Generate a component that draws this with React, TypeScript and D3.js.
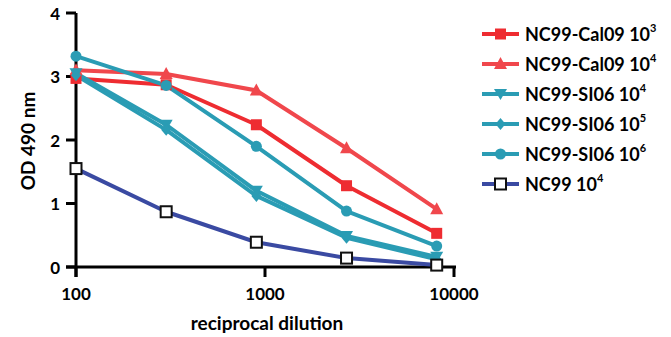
import { useEffect, useRef } from 'react';
import * as d3 from 'd3';

const dilutions = [100, 300, 900, 2700, 8100];
const seriesNames = ['NC99-Cal09 10', 'NC99-Cal09 10', 'NC99-SI06 10', 'NC99-SI06 10', 'NC99-SI06 10', 'NC99 10'];
const seriesExp = ['3', '4', '4', '5', '6', '4'];
const cal09e3 = [2.97, 2.87, 2.24, 1.28, 0.53];
const cal09e4 = [3.1, 3.04, 2.78, 1.87, 0.91];
const si06e4 = [3.05, 2.24, 1.2, 0.49, 0.16];
const si06e5 = [3.02, 2.16, 1.12, 0.46, 0.12];
const si06e6 = [3.32, 2.86, 1.9, 0.88, 0.33];
const nc99e4 = [1.55, 0.87, 0.39, 0.14, 0.03];
const yTicks = [0, 1, 2, 3, 4];
const xTicks = [100, 1000, 10000];

const series = [
  { vals: cal09e3, color: '#ee2c31', marker: 'square' },
  { vals: cal09e4, color: '#f0474c', marker: 'triangle' },
  { vals: si06e4, color: '#2a9cb4', marker: 'down' },
  { vals: si06e5, color: '#2a9cb4', marker: 'diamond' },
  { vals: si06e6, color: '#2a9cb4', marker: 'circle' },
  { vals: nc99e4, color: '#3a4aa2', marker: 'open' },
];

const FONT = 'Lato, "Open Sans", sans-serif';

function drawMarker(g: d3.Selection<SVGGElement, unknown, null, undefined>, kind: string, cx: number, cy: number, color: string) {
  if (kind === 'square') {
    g.append('rect').attr('x', cx - 5.5).attr('y', cy - 5.5).attr('width', 11).attr('height', 11).attr('fill', color);
  } else if (kind === 'triangle') {
    g.append('path').attr('d', `M${cx},${cy - 7}L${cx + 6.5},${cy + 5}L${cx - 6.5},${cy + 5}Z`).attr('fill', color);
  } else if (kind === 'down') {
    g.append('path').attr('d', `M${cx},${cy + 6}L${cx + 6.5},${cy - 5}L${cx - 6.5},${cy - 5}Z`).attr('fill', color);
  } else if (kind === 'diamond') {
    g.append('path').attr('d', `M${cx},${cy - 6}L${cx + 5},${cy}L${cx},${cy + 6}L${cx - 5},${cy}Z`).attr('fill', color);
  } else if (kind === 'circle') {
    g.append('circle').attr('cx', cx).attr('cy', cy).attr('r', 5.5).attr('fill', color);
  } else {
    g.append('rect').attr('x', cx - 5.5).attr('y', cy - 5.5).attr('width', 11).attr('height', 11)
      .attr('fill', 'white').attr('stroke', '#111').attr('stroke-width', 2);
  }
}

export default function App() {
  const svgRef = useRef<SVGSVGElement>(null);

  useEffect(() => {
    if (!svgRef.current) return;
    const svg = d3.select(svgRef.current);
    svg.selectAll('*').remove();

    const x = d3.scaleLog().domain([100, 10000]).range([76, 454]);
    const y = d3.scaleLinear().domain([0, 4]).range([267, 13]);

    const g = svg.append('g');

    // axes
    g.append('line').attr('x1', 76).attr('x2', 76).attr('y1', y(4)).attr('y2', 277)
      .attr('stroke', '#000').attr('stroke-width', 3);
    g.append('line').attr('x1', 66).attr('x2', 456).attr('y1', y(0)).attr('y2', y(0))
      .attr('stroke', '#000').attr('stroke-width', 3);
    yTicks.forEach(v => {
      g.append('line').attr('x1', 66).attr('x2', 76).attr('y1', y(v)).attr('y2', y(v))
        .attr('stroke', '#000').attr('stroke-width', 3);
      g.append('text').attr('x', 60).attr('y', y(v)).attr('text-anchor', 'end').attr('dominant-baseline', 'central')
        .attr('font-family', FONT).attr('font-weight', 'bold').attr('font-size', 17).text(v);
    });
    xTicks.forEach(v => {
      g.append('line').attr('x1', x(v)).attr('x2', x(v)).attr('y1', y(0)).attr('y2', 277)
        .attr('stroke', '#000').attr('stroke-width', 3);
      g.append('text').attr('x', x(v)).attr('y', 300).attr('text-anchor', 'middle')
        .attr('font-family', FONT).attr('font-weight', 'bold').attr('font-size', 17).text(v);
    });
    g.append('text').attr('x', 267).attr('y', 330).attr('text-anchor', 'middle')
      .attr('font-family', FONT).attr('font-weight', 'bold').attr('font-size', 19).text('reciprocal dilution');
    g.append('text').attr('transform', 'translate(35,141) rotate(-90)').attr('text-anchor', 'middle')
      .attr('font-family', FONT).attr('font-weight', 'bold').attr('font-size', 19).text('OD 490 nm');

    const line = d3.line<number>().x((_, i) => x(dilutions[i])).y(d => y(d));
    series.forEach(s => {
      g.append('path').datum(s.vals).attr('d', line).attr('fill', 'none')
        .attr('stroke', s.color).attr('stroke-width', 4).attr('stroke-linejoin', 'round');
    });
    series.forEach(s => {
      s.vals.forEach((v, i) => drawMarker(g, s.marker, x(dilutions[i]), y(v), s.color));
    });

    // legend
    const rowY = d3.scaleLinear().domain([0, 5]).range([34, 184]);
    series.forEach((s, i) => {
      const ly = rowY(i);
      g.append('line').attr('x1', 482).attr('x2', 519).attr('y1', ly).attr('y2', ly)
        .attr('stroke', s.color).attr('stroke-width', 4);
      drawMarker(g, s.marker, 500.5, ly, s.color);
      const t = g.append('text').attr('x', 525).attr('y', ly).attr('dominant-baseline', 'central')
        .attr('font-family', FONT).attr('font-weight', 'bold').attr('font-size', 18).text(seriesNames[i]);
      t.append('tspan').attr('dy', -7).attr('font-size', 11).text(seriesExp[i]);
    });
  }, []);

  return (
    <svg ref={svgRef} width={671} height={337} style={{ position: 'absolute', left: 0, top: 0, background: 'white' }} />
  );
}
